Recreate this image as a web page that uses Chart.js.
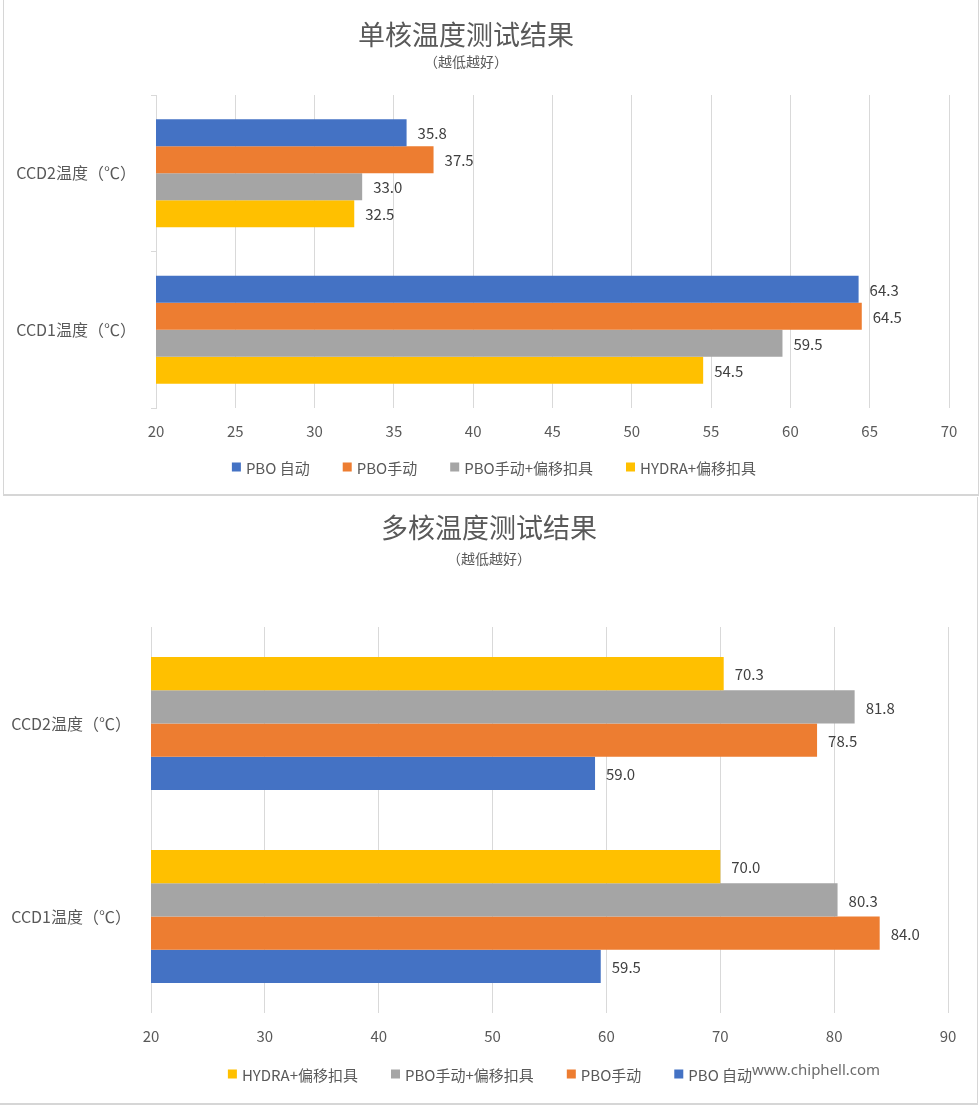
<!DOCTYPE html>
<html>
<head>
<meta charset="utf-8">
<script src="https://cdn.jsdelivr.net/npm/chart.js@4/dist/chart.umd.min.js"></script>
<style>
  html, body { margin: 0; padding: 0; background: #fff; width: 980px; height: 1105px; overflow: hidden; }
  #box1 { position: absolute; left: 3px; top: 0; width: 974px; height: 494px; border-left: 1px solid #d6d6d6; border-right: 1px solid #d6d6d6; border-bottom: 2px solid #d6d6d6; }
  #box2 { position: absolute; left: 0; top: 497px; width: 977px; height: 606px; border-right: 1px solid #d6d6d6; border-bottom: 2px solid #d6d6d6; }
  canvas { position: absolute; left: 0; top: 0; }
  #wm { position: absolute; left: 752px; top: 1059px; font: 15px "Noto Sans", sans-serif; color: #6b6b6b; text-shadow: 0 0 2px #fff, 0 0 2px #fff; }
</style>
</head>
<body>
<div id="box1"><canvas id="c1" width="974" height="494"></canvas></div>
<div id="box2"><canvas id="c2" width="977" height="606"></canvas></div>
<div id="wm">www.chiphell.com</div>
<script>
// ---- data ----
const categories = ['CCD2温度（℃）', 'CCD1温度（℃）'];

const singleTitle = '单核温度测试结果';
const multiTitle = '多核温度测试结果';
const subTitle = '（越低越好）';

const seriesNames = ['PBO 自动', 'PBO手动', 'PBO手动+偏移扣具', 'HYDRA+偏移扣具'];
const seriesColors = ['#4472C4', '#ED7D31', '#A5A5A5', '#FFC000'];

// single-core values [CCD2, CCD1]
const singlePboAuto = [35.8, 64.3];
const singlePboManual = [37.5, 64.5];
const singlePboManualMount = [33.0, 59.5];
const singleHydraMount = [32.5, 54.5];

// multi-core values [CCD2, CCD1]
const multiPboAuto = [59.0, 59.5];
const multiPboManual = [78.5, 84.0];
const multiPboManualMount = [81.8, 80.3];
const multiHydraMount = [70.3, 70.0];

const singleTicks = { min: 20, max: 70, step: 5 };
const multiTicks = { min: 20, max: 90, step: 10 };

// ---- rendering ----
const FONT = '"Noto Sans CJK SC", "Noto Sans", sans-serif';
Chart.defaults.font.family = FONT;
Chart.defaults.color = '#595959';

const valueLabels = {
  id: 'valueLabels',
  afterDatasetsDraw(chart) {
    const ctx = chart.ctx;
    ctx.save();
    ctx.font = '15px ' + FONT;
    ctx.fillStyle = '#404040';
    ctx.textBaseline = 'middle';
    ctx.textAlign = 'left';
    chart.data.datasets.forEach((ds, i) => {
      const meta = chart.getDatasetMeta(i);
      meta.data.forEach((bar, j) => {
        ctx.fillText(ds.data[j].toFixed(1), bar.x + 11, bar.y + 1);
      });
    });
    ctx.restore();
  }
};

// title, subtitle and legend drawn at the reference's positions
const headerLegend = {
  id: 'headerLegend',
  afterDraw(chart, args, opts) {
    const ctx = chart.ctx;
    ctx.save();
    ctx.fillStyle = '#595959';
    ctx.textBaseline = 'middle';
    ctx.textAlign = 'center';
    ctx.font = '27px ' + FONT;
    ctx.fillText(opts.title, opts.titleX, opts.titleY);
    ctx.font = '14px ' + FONT;
    ctx.fillText(opts.subtitle, opts.subX, opts.subY);

    // legend
    ctx.font = '15px ' + FONT;
    ctx.textAlign = 'left';
    const box = 9, gapBox = 5, gapItem = 33;
    const items = chart.data.datasets.map(ds => ({ text: ds.label, color: ds.backgroundColor, w: ctx.measureText(ds.label).width }));
    let total = items.reduce((s, it) => s + box + gapBox + it.w, 0) + gapItem * (items.length - 1);
    let x = opts.legendCX - total / 2;
    items.forEach(it => {
      ctx.fillStyle = it.color;
      ctx.fillRect(x, opts.legendY - box / 2, box, box);
      ctx.fillStyle = '#595959';
      ctx.fillText(it.text, x + box + gapBox, opts.legendY + 1);
      x += box + gapBox + it.w + gapItem;
    });
    ctx.restore();
  }
};

function makeChart(id, title, datasets, ticks, cfg) {
  return new Chart(document.getElementById(id), {
    type: 'bar',
    data: { labels: categories, datasets },
    plugins: [valueLabels, headerLegend],
    options: {
      indexAxis: 'y',
      responsive: false,
      animation: false,
      devicePixelRatio: 1,
      layout: { padding: { left: 0, right: cfg.padRight, top: cfg.padTop, bottom: cfg.padBottom } },
      datasets: { bar: { categoryPercentage: 0.69, barPercentage: 1.0 } },
      plugins: {
        title: { display: false },
        legend: { display: false },
        tooltip: { enabled: false },
        headerLegend: {
          title: title, subtitle: subTitle,
          titleX: cfg.titleX, titleY: cfg.titleY, subX: cfg.titleX, subY: cfg.subY,
          legendCX: cfg.legendCX, legendY: cfg.legendY
        }
      },
      scales: {
        x: {
          min: ticks.min, max: ticks.max,
          ticks: { stepSize: ticks.step, padding: 14.6, color: '#595959', font: { size: 15 } },
          grid: { color: '#d9d9d9', lineWidth: 1, drawTicks: false },
          border: { display: false },
          afterFit(scale) { scale.height = 40; }
        },
        y: {
          ticks: { padding: cfg.yPad, color: '#595959', font: { size: 16 } },
          grid: { offset: true, drawOnChartArea: false, drawTicks: cfg.yTicks, tickLength: 5, color: '#d9d9d9' },
          border: { display: cfg.yTicks, color: '#d9d9d9' },
          afterFit(scale) { scale.width = cfg.yWidth; }
        }
      }
    }
  });
}

makeChart('c1', singleTitle, [
  { label: seriesNames[0], data: singlePboAuto, backgroundColor: seriesColors[0] },
  { label: seriesNames[1], data: singlePboManual, backgroundColor: seriesColors[1] },
  { label: seriesNames[2], data: singlePboManualMount, backgroundColor: seriesColors[2] },
  { label: seriesNames[3], data: singleHydraMount, backgroundColor: seriesColors[3] }
], singleTicks, {
  padRight: 29, padTop: 95, padBottom: 46,
  titleX: 462, titleY: 35, subY: 62, legendCX: 490, legendY: 467,
  yWidth: 152, yPad: 15, yTicks: true
});

makeChart('c2', multiTitle, [
  { label: seriesNames[3], data: multiHydraMount, backgroundColor: seriesColors[3] },
  { label: seriesNames[2], data: multiPboManualMount, backgroundColor: seriesColors[2] },
  { label: seriesNames[1], data: multiPboManual, backgroundColor: seriesColors[1] },
  { label: seriesNames[0], data: multiPboAuto, backgroundColor: seriesColors[0] }
], multiTicks, {
  padRight: 29, padTop: 130, padBottom: 50,
  titleX: 489, titleY: 31, subY: 62, legendCX: 490, legendY: 577,
  yWidth: 151, yPad: 20, yTicks: false
});
</script>
</body>
</html>
